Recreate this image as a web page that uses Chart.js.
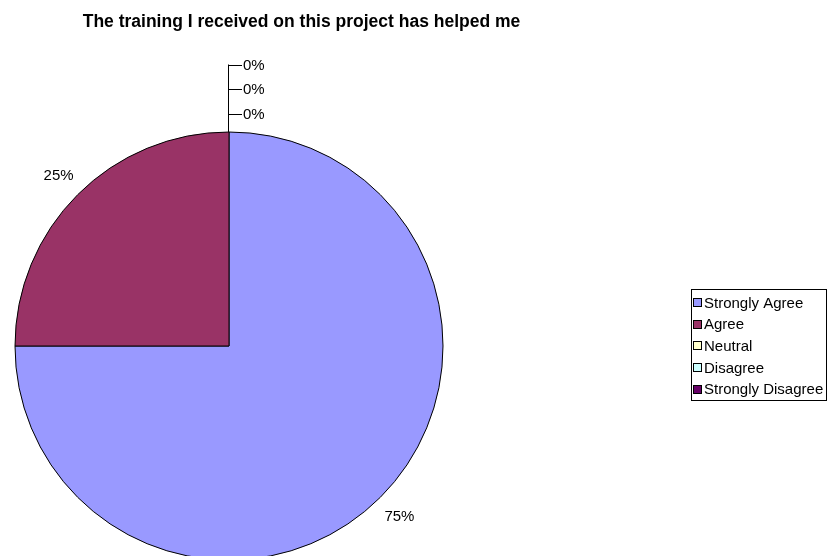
<!DOCTYPE html>
<html>
<head>
<meta charset="utf-8">
<script src="https://cdn.jsdelivr.net/npm/chart.js@4.4.1/dist/chart.umd.min.js"></script>
<style>
  html, body { margin: 0; padding: 0; background: #ffffff; overflow: hidden; }
  #wrap { position: relative; width: 828px; height: 580px; }
</style>
</head>
<body>
<div id="wrap"><canvas id="chart"></canvas></div>
<script>
// Survey responses
const chartTitle = 'The training I received on this project has helped me';
const categories = ['Strongly Agree', 'Agree', 'Neutral', 'Disagree', 'Strongly Disagree'];
const percentages = [75, 25, 0, 0, 0];
const sliceColors = ['#9999FF', '#993366', '#FFFFCC', '#CCFFFF', '#660066'];

const FONT = '"Liberation Sans", Arial, sans-serif';

// Draws the title, the percentage labels with leader lines, and the boxed legend
const annotations = {
  id: 'annotations',
  afterDraw(chart) {
    const ctx = chart.ctx;
    const meta = chart.getDatasetMeta(0);
    ctx.save();

    // title
    ctx.fillStyle = '#000';
    ctx.font = 'bold 17.5px ' + FONT;
    ctx.textAlign = 'center';
    ctx.textBaseline = 'middle';
    ctx.fillText(chartTitle, 301.5, 22);

    // slice labels
    ctx.font = '15px ' + FONT;
    const zeroIdx = [];
    meta.data.forEach((arc, i) => {
      const v = percentages[i];
      if (v === 0) { zeroIdx.push(i); return; }
      const mid = (arc.startAngle + arc.endAngle) / 2;
      const d = arc.outerRadius + 27;
      const x = arc.x + Math.cos(mid) * d;
      const y = arc.y + Math.sin(mid) * d;
      ctx.textAlign = 'center';
      ctx.textBaseline = 'middle';
      ctx.fillText(v + '%', x, y);
    });

    // zero-value labels stacked above the slices' common edge
    if (zeroIdx.length) {
      const a0 = meta.data[zeroIdx[0]];
      const ex = a0.x + Math.cos(a0.startAngle) * a0.outerRadius;
      const ey = a0.y + Math.sin(a0.startAngle) * a0.outerRadius;
      const step = 24.5;
      const firstY = 113.5;
      const topY = firstY - step * (zeroIdx.length - 1);
      ctx.strokeStyle = '#000';
      ctx.lineWidth = 1;
      ctx.beginPath();
      ctx.moveTo(Math.round(ex) - 0.5, ey);
      ctx.lineTo(Math.round(ex) - 0.5, topY);
      ctx.stroke();
      zeroIdx.forEach((idx, k) => {
        const ly = Math.round(firstY - step * k) + 0.5;
        ctx.beginPath();
        ctx.moveTo(Math.round(ex) - 0.5, ly);
        ctx.lineTo(Math.round(ex) + 13, ly);
        ctx.stroke();
        ctx.textAlign = 'left';
        ctx.textBaseline = 'middle';
        ctx.fillText(percentages[idx] + '%', Math.round(ex) + 14, ly);
      });
    }

    // legend
    const lx = 691.5, ly0 = 289.5, lw = 135, lh = 111;
    ctx.fillStyle = '#fff';
    ctx.fillRect(lx, ly0, lw, lh);
    ctx.strokeStyle = '#000';
    ctx.strokeRect(lx, ly0, lw, lh);
    categories.forEach((name, i) => {
      const cy = 303 + i * 21.7;
      ctx.fillStyle = sliceColors[i];
      ctx.fillRect(694, Math.round(cy) - 4, 8, 8);
      ctx.strokeStyle = '#000';
      ctx.strokeRect(693.5, Math.round(cy) - 4.5, 8, 8);
      ctx.fillStyle = '#000';
      ctx.textAlign = 'left';
      ctx.textBaseline = 'middle';
      ctx.fillText(name, 704, cy + 0.5);
    });

    ctx.restore();
  }
};

new Chart(document.getElementById('chart'), {
  type: 'pie',
  data: {
    labels: categories,
    datasets: [{
      data: percentages,
      backgroundColor: sliceColors,
      borderColor: '#000',
      borderWidth: 1,
      hoverOffset: 0,
      offset: 0
    }]
  },
  options: {
    responsive: true,
    maintainAspectRatio: false,
    animation: false,
    events: [],
    radius: 214,
    rotation: 0,
    layout: { padding: { left: 15, top: 132, right: 385, bottom: 20 } },
    plugins: {
      legend: { display: false },
      title: { display: false },
      tooltip: { enabled: false }
    }
  },
  plugins: [annotations]
});
</script>
</body>
</html>
